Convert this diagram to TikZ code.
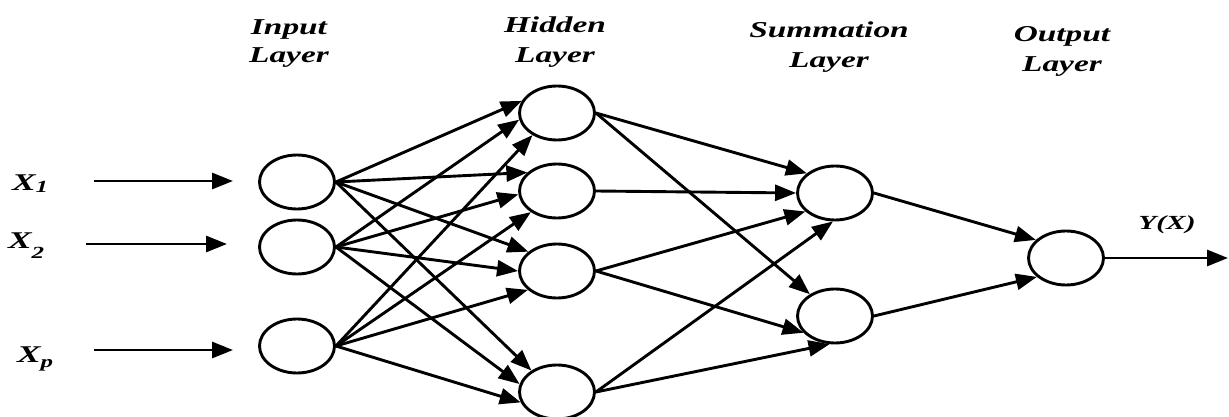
\documentclass[tikz,border=0pt]{standalone}
\usepackage{fontspec}
\usepackage{graphicx}
\setmainfont{Liberation Serif}
\usetikzlibrary{shapes.geometric,arrows.meta}

% horizontally widened bold-italic lettering
\newcommand\widetxt[1]{\scalebox{1.47}[1]{#1}}
\newcommand\lowsub[2]{\raisebox{-#1}{\fontsize{17}{17}\selectfont #2}}

\begin{document}
\begin{tikzpicture}[x=1pt,y=-1pt,
  neuron/.style={ellipse,draw,line width=2.9pt,minimum width=75pt,minimum height=54pt,inner sep=0pt},
  link/.style={line width=2.9pt,-{Triangle[length=21pt,width=16pt]}},
  title/.style={anchor=base,inner sep=0pt,font=\fontsize{22.7}{29}\selectfont\bfseries\itshape},
  varlabel/.style={anchor=base west,inner sep=0pt,font=\fontsize{24}{28}\selectfont\bfseries\itshape},
  outlabel/.style={anchor=base,inner sep=0pt,font=\fontsize{20}{24}\selectfont\bfseries\itshape}]
\useasboundingbox (0,0) rectangle (1229,417);

% layer titles
\node[title] (tin1)  at (289,35) {\widetxt{Input}};
\node[title] (tin2)  at (289,63) {\widetxt{Layer}};
\node[title] (thid1) at (555,33) {\widetxt{Hidden}};
\node[title] (thid2) at (555,63) {\widetxt{Layer}};
\node[title] (tsum1) at (829,38) {\widetxt{Summation}};
\node[title] (tsum2) at (829,68) {\widetxt{Layer}};
\node[title] (tout1) at (1062,42) {\widetxt{Output}};
\node[title] (tout2) at (1062,72) {\widetxt{Layer}};

% input variables
\node[varlabel] (x1) at (12,190) {\widetxt{X\lowsub{2pt}{1}}};
\node[varlabel] (x2) at (8,248) {\widetxt{X\lowsub{10pt}{2}}};
\node[varlabel] (xp) at (17,362) {\widetxt{X\lowsub{5pt}{p}}};

% neurons
\node[neuron] (i1) at (297,182) {};
\node[neuron] (i2) at (297,247) {};
\node[neuron] (ip) at (297,346) {};

\node[neuron] (h1) at (557,113) {};
\node[neuron] (h2) at (557,191) {};
\node[neuron] (h3) at (557,271) {};
\node[neuron] (h4) at (557,392) {};

\node[neuron] (s1) at (835,193) {};
\node[neuron] (s2) at (835,316) {};

\node[neuron] (o) at (1066,258) {};

% free arrow ends
\coordinate (a1s) at (94,181);  \coordinate (a1e) at (233,181);
\coordinate (a2s) at (86,244);  \coordinate (a2e) at (227,244);
\coordinate (aps) at (94,350);  \coordinate (ape) at (233,350);
\coordinate (yend) at (1228,258);

\draw[link] (a1s) -- (a1e);
\draw[link] (a2s) -- (a2e);
\draw[link] (aps) -- (ape);

% input -> hidden
\draw[link] (i1.east) -- (h1.161);
\draw[link] (i2.east) -- (h1.190);
\draw[link] (ip.east) -- (h1.222);
\draw[link] (i1.east) -- (h2.148);
\draw[link] (i2.east) -- (h2.185);
\draw[link] (ip.east) -- (h2.219);
\draw[link] (i1.east) -- (h3.146);
\draw[link] (i2.east) -- (h3.180);
\draw[link] (ip.east) -- (h3.213);
\draw[link] (i1.east) -- (h4.140);
\draw[link] (i2.east) -- (h4.168);
\draw[link] (ip.east) -- (h4.196);

% hidden -> summation
\draw[link] (h1.east) -- (s1.145);
\draw[link] (h1.east) -- (s2.139);
\draw[link] (h2.east) -- (s1.180);
\draw[link] (h3.east) -- (s1.212);
\draw[link] (h3.east) -- (s2.208);
\draw[link] (h4.east) -- (s1.266);
\draw[link] (h4.east) -- (s2.259);

% summation -> output
\draw[link] (s1.east) -- (o.149);
\draw[link] (s2.east) -- (o.213);
\draw[link] (o.east) -- (yend);

\node[outlabel] (ylab) at (1167,229) {\widetxt{Y(X)}};
\end{tikzpicture}
\end{document}
